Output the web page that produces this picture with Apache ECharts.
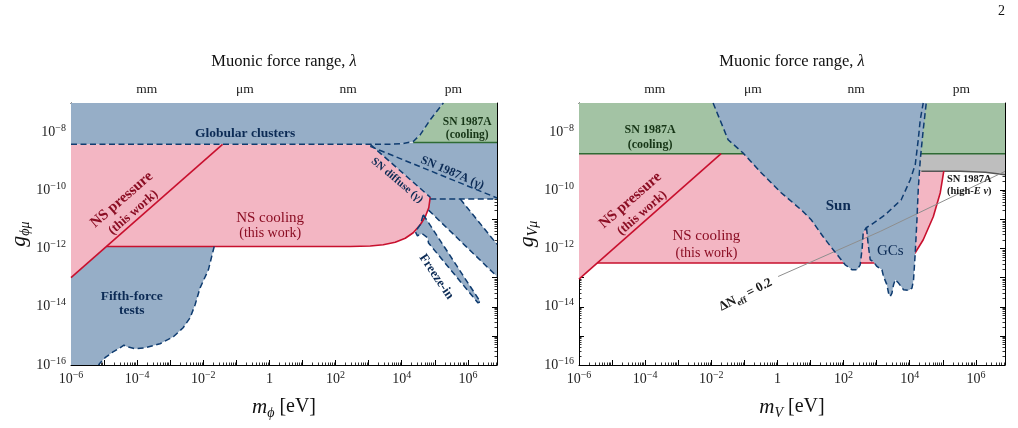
<!DOCTYPE html>
<html><head><meta charset="utf-8">
<script src="https://cdn.jsdelivr.net/npm/echarts@6/dist/echarts.min.js"></script>
<style>html,body{margin:0;padding:0;background:#fff;}#c{width:1018px;height:428px;}</style>
</head><body><div id="c"></div>
<script>
// ---------------- DATA (log10 of mass in eV, log10 of coupling) ----------------
const X_RANGE = [-6, 6.88];
const Y_RANGE = [-16, -7];
const xTickLabels = [-6, -4, -2, 0, 2, 4, 6];
const yTickLabels = [-16, -14, -12, -10, -8];
const lambdaNames = ['mm', 'μm', 'nm', 'pm'];
const lambdaLabelPos = [-3.71, -0.74, 2.38, 5.56];
const HBARC = 1.97327e-7; // eV * m

// Left panel (scalar phi)
const L_GC = [[-6,-7],[5.26,-7],[5.216,-7.058],[4.862,-7.574],[4.56,-8.089],[4.348,-8.32],[4.045,-8.39],[3.652,-8.42],[-6,-8.42]];
const L_GC_edge = [[-6,-8.42],[3.652,-8.42],[4.045,-8.39],[4.348,-8.32],[4.56,-8.089],[4.862,-7.574],[5.216,-7.058],[5.26,-7]];
const L_SNcool = [[5.26,-7],[6.88,-7],[6.88,-8.354],[4.348,-8.354],[4.348,-8.32],[4.56,-8.089],[4.862,-7.574],[5.216,-7.058]];
const L_SNcool_edge = [[4.348,-8.354],[6.88,-8.354]];
const L_SNregion = [[3.047,-8.42],[4.045,-8.39],[4.348,-8.354],[6.88,-8.354],[6.88,-10.30],[5.77,-10.30],[6.88,-11.855],[6.88,-12.959],[4.81,-10.68],[4.862,-10.237]];
const L_SNgamma = [[3.047,-8.49],[6.88,-10.261]];
const L_SNdiffuse = [[3.047,-8.42],[4.862,-10.237]];
const L_SNdiffTop = [[4.862,-10.30],[6.88,-10.30]];
const L_SNdiffA = [[5.77,-10.30],[6.88,-11.855]];
const L_SNdiffB = [[4.81,-10.68],[6.88,-12.959]];
const L_freeze = [[4.651,-10.838],[6.375,-13.828],[6.30,-13.86],[4.81,-11.81],[4.78,-11.63],[4.62,-11.49],[4.47,-11.56],[4.41,-11.42],[4.56,-11.18],[4.651,-10.838]];
const L_fifth = [[-6,-16],[-6,-13.0],[-4.925,-11.928],[-1.67,-11.928],[-1.846,-12.73],[-2.097,-13.35],[-2.248,-13.93],[-2.399,-14.378],[-2.61,-14.72],[-2.905,-15.03],[-3.31,-15.27],[-3.76,-15.41],[-4.06,-15.44],[-4.31,-15.37],[-4.40,-15.32],[-4.52,-15.41],[-4.73,-15.55],[-4.97,-15.75],[-5.12,-15.935],[-5.17,-16]];
const L_pink = [[-6,-8.42],[3.047,-8.42],[4.862,-10.237],[4.817,-10.598],[4.711,-10.907],[4.56,-11.182],[4.348,-11.457],[4.106,-11.646],[3.803,-11.784],[3.44,-11.869],[3.047,-11.914],[2.442,-11.928],[-4.925,-11.928],[-6,-13.0]];
const L_NScool = [[-4.925,-11.928],[2.442,-11.928],[3.047,-11.914],[3.44,-11.869],[3.803,-11.784],[4.106,-11.646],[4.348,-11.457],[4.56,-11.182],[4.711,-10.907],[4.817,-10.598],[4.862,-10.237]];
const L_NSpress = [[-6,-13.0],[-1.417,-8.42]];

// Right panel (vector V)
const R_SNcool = [[-6,-7],[6.88,-7],[6.88,-8.742],[-6,-8.742]];
const R_SNcool_edge = [[-6,-8.742],[6.88,-8.742]];
const R_highE = [[4.3,-8.742],[6.88,-8.742],[6.88,-9.464],[6.284,-9.378],[5.527,-9.344],[4.3,-9.344]];
const R_highE_edge = [[4.35,-9.344],[5.527,-9.344],[6.284,-9.378],[6.88,-9.464]];
const R_pink = [[-6,-8.742],[4.3,-8.742],[4.3,-9.344],[5.029,-9.344],[4.923,-10.082],[4.711,-10.907],[4.408,-11.698],[4.166,-12.144],[3.864,-12.385],[3.41,-12.488],[2.805,-12.498],[-5.45,-12.498],[-6,-13.048]];
const R_NScool = [[-5.45,-12.498],[2.805,-12.498],[3.41,-12.488],[3.864,-12.385],[4.166,-12.144],[4.408,-11.698],[4.711,-10.907],[4.923,-10.082],[5.029,-9.344]];
const R_NSpress = [[-6,-13.048],[-1.703,-8.742]];
const R_sun = [[-1.946,-7],[-1.492,-8.261],[-1.038,-8.718],[-0.493,-9.395],[0.112,-10.082],[0.717,-10.667],[1.02,-11.01],[1.383,-11.595],[1.685,-12.041],[2.048,-12.557],[2.26,-12.729],[2.411,-12.729],[2.502,-12.557],[2.563,-11.973],[2.593,-11.457],[2.684,-11.285],[2.835,-11.182],[3.259,-10.838],[3.743,-10.323],[4.015,-9.636],[4.166,-9.12],[4.257,-8.261],[4.318,-7.574],[4.408,-7]];
const R_gcs = [[2.694,-11.297],[2.744,-11.869],[2.805,-12.385],[2.905,-12.454],[3.008,-12.615],[3.159,-12.729],[3.208,-12.959],[3.31,-13.244],[3.359,-13.529],[3.41,-13.646],[3.462,-13.529],[3.51,-13.244],[3.561,-13.072],[3.661,-13.186],[3.813,-13.416],[3.964,-13.44],[4.067,-13.357],[4.115,-13.072],[4.166,-12.155],[4.218,-11.01],[4.257,-9.979],[4.318,-8.948],[4.408,-7.918],[4.499,-7]];
const R_dNeff = [[0.02,-12.96],[3.11,-11.41],[6.88,-9.348]];

// ---------------- STYLE ----------------
const SERIF = "'Liberation Serif','DejaVu Serif',serif";
const COL = {blue:'#96aec7', pink:'#f3b6c3', green:'#a3c3a4', gray:'#bebebe', dash:'#0f3c70',
  red:'#c8102e', gline:'#2f6b34', grayline:'#8e8e8e', darkgray:'#555', navy:'#0c2b55', dkred:'#8b0d23', dkgreen:'#163516', ink:'#1a1a1a'};
const DASH = [6, 3.5];

const L_texts = [
  {x:-0.735,y:-8.055,t:'Globular clusters',s:13.5,c:COL.navy},
  {x:5.98,y:-7.65,t:'SN 1987A',s:11.5,c:COL.dkgreen},
  {x:5.98,y:-8.09,t:'(cooling)',s:11.5,c:COL.dkgreen},
  {x:5.53,y:-9.40,t:'SN 1987A (γ)',s:12,c:COL.navy,rot:-23},
  {x:3.86,y:-9.66,t:'SN diffuse (γ)',s:11,c:COL.navy,rot:-40},
  {x:-4.467,y:-10.323,t:'NS pressure',s:15,c:COL.dkred,rot:41},
  {x:-4.115,y:-10.759,t:'(this work)',s:13,c:COL.dkred,rot:41},
  {x:0.021,y:-10.942,t:'NS cooling',s:15,c:COL.dkred,w:'normal'},
  {x:0.021,y:-11.464,t:'(this work)',s:14,c:COL.dkred,w:'normal'},
  {x:-4.163,y:-13.646,t:'Fifth-force',s:13.5,c:COL.navy},
  {x:-4.163,y:-14.127,t:'tests',s:13.5,c:COL.navy},
  {x:5.044,y:-12.969,t:'Freeze-in',s:13,c:COL.navy,rot:-56,halo:true}
];
const R_texts = [
  {x:-3.852,y:-7.921,t:'SN 1987A',s:12,c:COL.dkgreen},
  {x:-3.852,y:-8.433,t:'(cooling)',s:12,c:COL.dkgreen},
  {x:-4.447,y:-10.347,t:'NS pressure',s:15,c:COL.dkred,rot:41},
  {x:-4.094,y:-10.78,t:'(this work)',s:13,c:COL.dkred,rot:41},
  {x:-2.148,y:-11.584,t:'NS cooling',s:15,c:COL.dkred,w:'normal'},
  {x:-2.148,y:-12.155,t:'(this work)',s:14,c:COL.dkred,w:'normal'},
  {x:1.837,y:-10.553,t:'Sun',s:15,c:COL.navy},
  {x:3.41,y:-12.1,t:'GCs',s:15,c:COL.navy,w:'normal'},
  {x:5.80,y:-9.636,t:'SN 1987A',s:10.5,c:COL.ink},
  {x:5.80,y:-10.02,t:'{b|(high-}{bi|E ν}{b|)}',s:10.5,c:COL.ink,
    rich:{b:{fontFamily:SERIF,fontSize:10.5,fontWeight:'bold',fill:COL.ink},bi:{fontFamily:SERIF,fontSize:10.5,fontWeight:'bold',fontStyle:'italic',fill:COL.ink}}},
  {x:-0.962,y:-13.588,t:'{b|ΔN}{s|eff}{b| = 0.2}',s:13,c:COL.ink,rot:27,
    rich:{b:{fontFamily:SERIF,fontSize:13,fontWeight:'bold',fill:COL.ink,lineHeight:18},s:{fontFamily:SERIF,fontSize:9,fontWeight:'bold',fill:COL.ink,verticalAlign:'bottom'}}}
];

// ---------------- HELPERS ----------------
function minorTicks(lo, hi) {
  const out = [];
  for (let n = Math.floor(lo) - 1; n <= Math.ceil(hi); n++)
    for (let k = 2; k <= 9; k++) { const v = n + Math.log10(k); if (v > lo && v < hi) out.push(v); }
  return out;
}
function intTicks(lo, hi) { const o = []; for (let n = Math.ceil(lo); n <= Math.floor(hi); n++) o.push(n); return o; }
const lamMajor = [], lamMinor = [];
for (let k = -14; k <= 0; k++) {
  const base = Math.log10(HBARC) - k;
  if (base > X_RANGE[0] && base < X_RANGE[1]) lamMajor.push(base);
  for (let j = 2; j <= 9; j++) { const v = base - Math.log10(j); if (v > X_RANGE[0] && v < X_RANGE[1]) lamMinor.push(v); }
}
function powLabel(v) {
  const n = Math.round(v);
  if (n === 0) return '{b|1}';
  return '{b|10}{s|' + (n < 0 ? '−' : '') + Math.abs(n) + '}';
}
const labelRich = {
  b:{fontFamily:SERIF,fontSize:14,color:'#222',lineHeight:18},
  s:{fontFamily:SERIF,fontSize:10,color:'#222',verticalAlign:'top'}
};
const noLine = {show:false, onZero:false};
const frame = {show:true, onZero:false, lineStyle:{color:'#000', width:1}};

function xAxes(p, xname) {
  const g = p;
  const common = {gridIndex:g, type:'value', min:X_RANGE[0], max:X_RANGE[1], interval:2, splitLine:{show:false}};
  return [
    Object.assign({}, common, {position:'bottom', axisLine:frame,
      axisTick:{show:true, inside:true, length:5, customValues:intTicks(X_RANGE[0], X_RANGE[1]), lineStyle:{color:'#000', width:1}},
      axisLabel:{show:true, margin:5, customValues:xTickLabels, formatter:powLabel, rich:labelRich},
      name:xname, nameLocation:'middle', nameGap:29,
      nameTextStyle:{fontFamily:SERIF, fontSize:20, color:'#111', lineHeight:26,
        rich:{i:{fontFamily:SERIF,fontSize:21,fontStyle:'italic',color:'#111',lineHeight:26},
              sub:{fontFamily:SERIF,fontSize:14,fontStyle:'italic',color:'#111',verticalAlign:'bottom'},
              r:{fontFamily:SERIF,fontSize:20,color:'#111',lineHeight:26}}}}),
    Object.assign({}, common, {position:'bottom', axisLine:noLine,
      axisTick:{show:true, inside:true, length:2.5, customValues:minorTicks(X_RANGE[0], X_RANGE[1]), lineStyle:{color:'#000', width:0.8}},
      axisLabel:{show:false}}),
    Object.assign({}, common, {position:'top', axisLine:frame,
      axisTick:{show:true, inside:true, length:5, customValues:lamMajor, lineStyle:{color:'#000', width:1}},
      axisLabel:{show:true, margin:7, customValues:lambdaLabelPos, fontFamily:SERIF, fontSize:13.5, color:'#222',
        formatter:(v)=>{let b=0;for(let i=1;i<lambdaLabelPos.length;i++) if(Math.abs(lambdaLabelPos[i]-v)<Math.abs(lambdaLabelPos[b]-v)) b=i; return lambdaNames[b];}},
      name:'Muonic force range, {i|λ}', nameLocation:'middle', nameGap:33,
      nameTextStyle:{fontFamily:SERIF, fontSize:16.5, color:'#111',
        rich:{i:{fontFamily:SERIF,fontSize:16.5,fontStyle:'italic',color:'#111'}}}}),
    Object.assign({}, common, {position:'top', axisLine:noLine,
      axisTick:{show:true, inside:true, length:2.5, customValues:lamMinor, lineStyle:{color:'#000', width:0.8}},
      axisLabel:{show:false}})
  ];
}
function yAxes(p, yname) {
  const common = {gridIndex:p, type:'value', min:Y_RANGE[0], max:Y_RANGE[1], interval:1, splitLine:{show:false}};
  const maj = {show:true, inside:true, length:5, customValues:intTicks(Y_RANGE[0], Y_RANGE[1]), lineStyle:{color:'#000', width:1}};
  const mnr = {show:true, inside:true, length:2.5, customValues:minorTicks(Y_RANGE[0], Y_RANGE[1]), lineStyle:{color:'#000', width:0.8}};
  return [
    Object.assign({}, common, {position:'left', axisLine:frame, axisTick:maj,
      axisLabel:{show:true, margin:5, customValues:yTickLabels, formatter:powLabel, rich:labelRich},
      name:yname, nameLocation:'middle', nameGap:36, nameRotate:90,
      nameTextStyle:{fontFamily:SERIF, fontSize:20, color:'#111', lineHeight:26,
        rich:{i:{fontFamily:SERIF,fontSize:22,fontStyle:'italic',color:'#111',lineHeight:26},
              sub:{fontFamily:SERIF,fontSize:14,fontStyle:'italic',color:'#111',verticalAlign:'bottom'}}}}),
    Object.assign({}, common, {position:'left', axisLine:noLine, axisTick:mnr, axisLabel:{show:false}}),
    Object.assign({}, common, {position:'right', axisLine:frame, axisTick:maj, axisLabel:{show:false}}),
    Object.assign({}, common, {position:'right', axisLine:noLine, axisTick:mnr, axisLabel:{show:false}})
  ];
}

function poly(p, pts, fill, z) {
  return {type:'custom', xAxisIndex:4*p, yAxisIndex:4*p, clip:true, silent:true, z:z, animation:false,
    data:[pts[0]],
    renderItem:(params, api)=>({type:'polygon', shape:{points:pts.map(q=>api.coord(q))}, style:{fill:fill, stroke:null}})};
}
function line(p, pts, color, width, type, z) {
  return {type:'line', xAxisIndex:4*p, yAxisIndex:4*p, data:pts, symbol:'none', showSymbol:false, silent:true,
    animation:false, z:z, clip:true, lineStyle:{color:color, width:width, type:type, cap:'butt', join:'round'}};
}
function texts(p, items) {
  return {type:'custom', xAxisIndex:4*p, yAxisIndex:4*p, z:20, silent:true, animation:false,
    data:items.map(it=>[it.x, it.y]),
    renderItem:(params, api)=>{
      const it = items[params.dataIndex];
      const c = api.coord([api.value(0), api.value(1)]);
      const style = {text:it.t, fill:it.c, font:(it.w||'bold')+' '+it.s+'px '+SERIF, align:'center', verticalAlign:'middle'};
      if (it.rich) style.rich = it.rich;
      if (it.halo) { style.stroke = '#ffffff'; style.lineWidth = 2.2; }
      return {type:'text', x:c[0], y:c[1], rotation:(it.rot||0)*Math.PI/180, style:style};
    }};
}

const series = [
  // left fills
  poly(0, L_SNcool, COL.green, 1),
  poly(0, L_pink, COL.pink, 2),
  poly(0, L_fifth, COL.blue, 3),
  poly(0, L_GC, COL.blue, 3),
  poly(0, L_SNregion, COL.blue, 3),
  poly(0, L_freeze, COL.blue, 3),
  // left lines
  line(0, L_SNcool_edge, COL.gline, 1.5, 'solid', 5),
  line(0, L_NSpress, COL.red, 1.6, 'solid', 5),
  line(0, L_NScool, COL.red, 1.6, 'solid', 5),
  line(0, L_GC_edge, COL.dash, 1.5, DASH, 6),
  line(0, L_SNgamma, COL.dash, 1.5, DASH, 6),
  line(0, L_SNdiffuse, COL.dash, 1.5, DASH, 6),
  line(0, L_SNdiffTop, COL.dash, 1.5, DASH, 6),
  line(0, L_SNdiffA, COL.dash, 1.5, DASH, 6),
  line(0, L_SNdiffB, COL.dash, 1.5, DASH, 6),
  line(0, L_freeze, COL.dash, 1.5, DASH, 6),
  line(0, L_fifth.slice(3), COL.dash, 1.5, DASH, 6),
  texts(0, L_texts),
  // right fills
  poly(1, R_SNcool, COL.green, 1),
  poly(1, R_highE, COL.gray, 1),
  poly(1, R_pink, COL.pink, 1),
  line(1, R_SNcool_edge, COL.gline, 1.5, 'solid', 2),
  line(1, R_highE_edge, COL.darkgray, 1.5, 'solid', 2),
  line(1, R_NSpress, COL.red, 1.6, 'solid', 2),
  line(1, R_NScool, COL.red, 1.6, 'solid', 2),
  poly(1, R_sun, COL.blue, 3),
  poly(1, R_gcs.concat(R_sun.slice(16).reverse()), COL.blue, 3),
  line(1, R_dNeff, COL.grayline, 1, 'solid', 5),
  line(1, R_sun, COL.dash, 1.5, DASH, 6),
  line(1, R_gcs, COL.dash, 1.5, DASH, 6),
  texts(1, R_texts)
];

const chart = echarts.init(document.getElementById('c'), null, {renderer:'canvas'});
chart.setOption({
  animation:false,
  backgroundColor:'#fff',
  grid:[
    {left:71, top:103, width:426, height:262, outerBoundsMode:'none', containLabel:false},
    {left:579, top:103, width:426, height:262, outerBoundsMode:'none', containLabel:false}
  ],
  xAxis: xAxes(0, '{i|m}{sub|ϕ}{r| [eV]}').concat(xAxes(1, '{i|m}{sub|V}{r| [eV]}')),
  yAxis: yAxes(0, '{i|g}{sub|ϕμ}').concat(yAxes(1, '{i|g}{sub|Vμ}')),
  graphic:[{type:'text', left:998, top:4, style:{text:'2', font:'14px '+SERIF, fill:'#111'}}],
  series: series
});
</script></body></html>
